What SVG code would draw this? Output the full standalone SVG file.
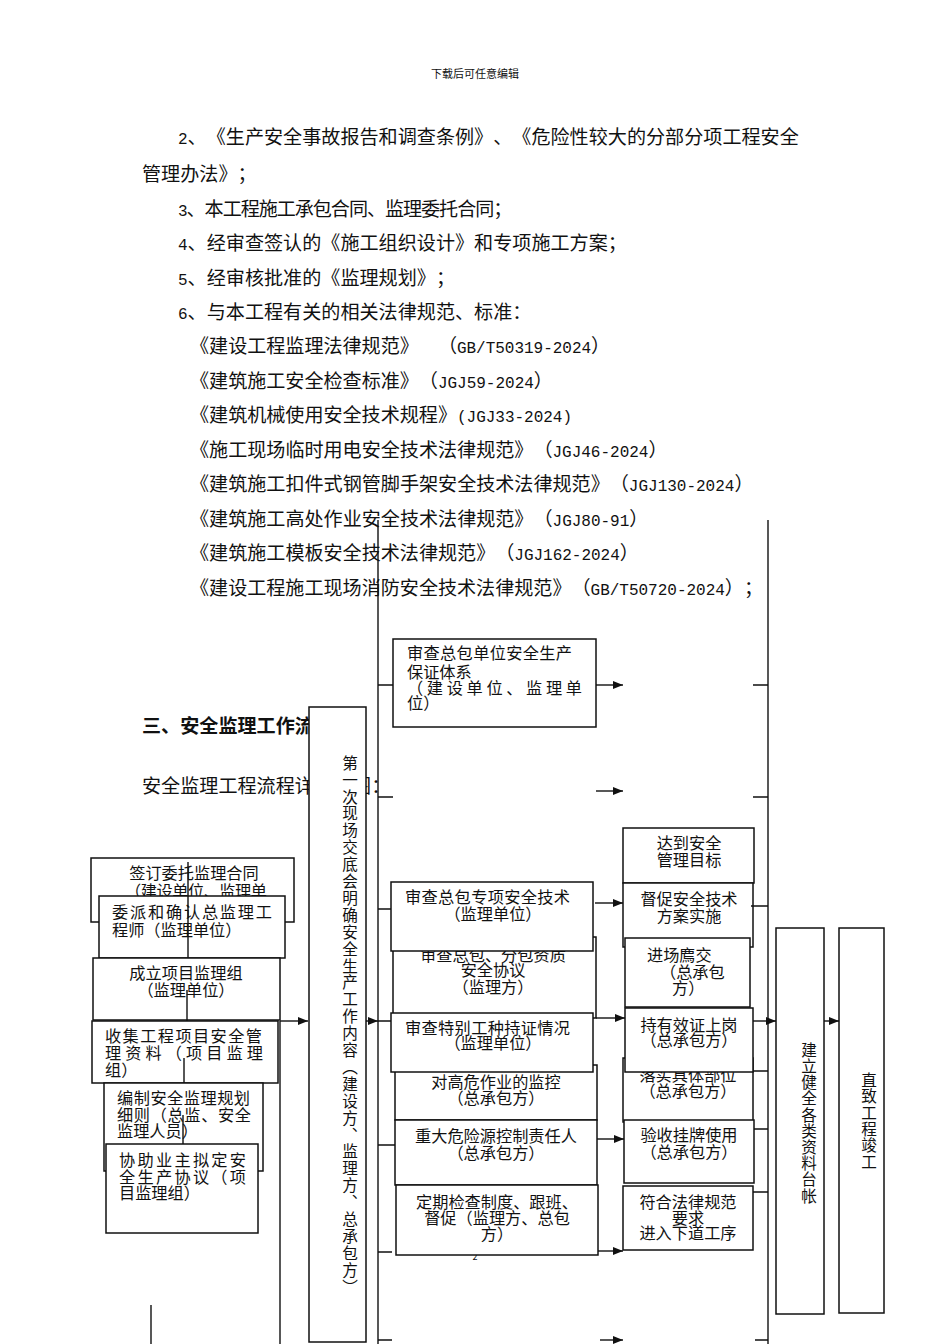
<svg xmlns="http://www.w3.org/2000/svg" width="950" height="1344" viewBox="0 0 950 1344">
<defs>
<style>
text{font-family:"Noto Sans CJK SC","Noto Sans",sans-serif;fill:#111;text-spacing-trim:space-all;}
.doc{font-size:19.1px;}
.lat{font-family:"Liberation Mono","DejaVu Sans Mono",monospace;font-size:16px;}
.bx{fill:#fff;stroke:#111;stroke-width:1.5;}
.t{font-size:16.2px;}
.c{text-anchor:middle;}
.v{font-size:15.6px;writing-mode:vertical-rl;letter-spacing:1.3px;}
.ln{stroke:#111;stroke-width:1.4;fill:none;}
.ar{stroke:#111;stroke-width:1.4;fill:none;marker-end:url(#ah);}
</style>
<marker id="ah" viewBox="0 0 10 8" refX="10" refY="4" markerWidth="10" markerHeight="8" markerUnits="userSpaceOnUse" orient="auto"><path d="M0,0 L10,4 L0,8 z" fill="#111"/></marker>
</defs>
<rect width="950" height="1344" fill="#fff"/>

<g id="page-text">
<text x="475" y="78" font-size="11" text-anchor="middle">下载后可任意编辑</text>
<text class="doc" x="178" y="144" textLength="620.8" lengthAdjust="spacing"><tspan class="lat">2</tspan>、《生产安全事故报告和调查条例》、《危险性较大的分部分项工程安全</text>
<text class="doc" x="142" y="181" textLength="114.6" lengthAdjust="spacing">管理办法》；</text>
<text class="doc" x="178" y="216" textLength="334.3" lengthAdjust="spacing"><tspan class="lat">3</tspan>、本工程施工承包合同、监理委托合同；</text>
<text class="doc" x="178" y="250" textLength="448.9" lengthAdjust="spacing"><tspan class="lat">4</tspan>、经审查签认的《施工组织设计》和专项施工方案；</text>
<text class="doc" x="178" y="285" textLength="277" lengthAdjust="spacing"><tspan class="lat">5</tspan>、经审核批准的《监理规划》；</text>
<text class="doc" x="178" y="319" textLength="353.4" lengthAdjust="spacing"><tspan class="lat">6</tspan>、与本工程有关的相关法律规范、标准：</text>
<text class="doc" x="190" y="353" textLength="420.2" lengthAdjust="spacing">《建设工程监理法律规范》　（<tspan class="lat">GB/T50319-2024</tspan>）</text>
<text class="doc" x="190" y="388" textLength="362.9" lengthAdjust="spacing">《建筑施工安全检查标准》（<tspan class="lat">JGJ59-2024</tspan>）</text>
<text class="doc" x="190" y="422" textLength="382" lengthAdjust="spacing">《建筑机械使用安全技术规程》<tspan class="lat">(JGJ33-2024)</tspan></text>
<text class="doc" x="190" y="457" textLength="477.5" lengthAdjust="spacing">《施工现场临时用电安全技术法律规范》（<tspan class="lat">JGJ46-2024</tspan>）</text>
<text class="doc" x="190" y="491" textLength="563.5" lengthAdjust="spacing">《建筑施工扣件式钢管脚手架安全技术法律规范》（<tspan class="lat">JGJ130-2024</tspan>）</text>
<text class="doc" x="190" y="526" textLength="458.4" lengthAdjust="spacing">《建筑施工高处作业安全技术法律规范》（<tspan class="lat">JGJ80-91</tspan>）</text>
<text class="doc" x="190" y="560" textLength="448.9" lengthAdjust="spacing">《建筑施工模板安全技术法律规范》（<tspan class="lat">JGJ162-2024</tspan>）</text>
<text class="doc" x="190" y="595" textLength="573" lengthAdjust="spacing">《建设工程施工现场消防安全技术法律规范》（<tspan class="lat">GB/T50720-2024</tspan>）；</text>
<text class="doc" x="142" y="733" font-weight="bold" textLength="171.9" lengthAdjust="spacing">三、安全监理工作流</text>
<text class="doc" x="142" y="793" textLength="248.3" lengthAdjust="spacing">安全监理工程流程详见下图：</text>
<text x="475" y="1260" font-size="9" text-anchor="middle">2</text>
</g>

<g id="n-sign">
<rect class="bx" x="91" y="858" width="203" height="64"/>
<text class="t c" x="194" y="879">签订委托监理合同</text>
<text class="t" x="125" y="897" textLength="142" lengthAdjust="spacing">（建设单位、监理单</text>
</g>
<g id="n-appoint">
<rect class="bx" x="99" y="896" width="186" height="62"/>
<text class="t" x="112" y="918" textLength="160" lengthAdjust="spacing">委派和确认总监理工</text>
<text class="t" x="112" y="936">程师（监理单位）</text>
</g>
<g id="n-team">
<rect class="bx" x="93" y="958" width="187" height="62"/>
<text class="t c" x="186" y="979">成立项目监理组</text>
<text class="t c" x="186" y="996">（监理单位）</text>
</g>
<g id="n-collect">
<rect class="bx" x="92" y="1021" width="186" height="62"/>
<text class="t" x="105" y="1042" textLength="157" lengthAdjust="spacing">收集工程项目安全管</text>
<text class="t" x="105" y="1059" textLength="158" lengthAdjust="spacing">理资料（项目监理</text>
<text class="t" x="105" y="1076">组）</text>
</g>
<g id="n-plan">
<rect class="bx" x="104" y="1083" width="159" height="88"/>
<text class="t" x="117" y="1104" textLength="133" lengthAdjust="spacing">编制安全监理规划</text>
<text class="t" x="117" y="1121" textLength="134" lengthAdjust="spacing">细则（总监、安全</text>
<text class="t" x="117" y="1137">监理人员）</text>
</g>
<g id="n-assist">
<rect class="bx" x="106" y="1144" width="152" height="89"/>
<text class="t" x="119" y="1166" textLength="127" lengthAdjust="spacing">协助业主拟定安</text>
<text class="t" x="119" y="1183" textLength="127" lengthAdjust="spacing">全生产协议（项</text>
<text class="t" x="119" y="1199">目监理组）</text>
</g>

<g id="n-first">
<rect class="bx" x="309" y="707" width="57" height="635"/>
<text class="v" x="350" y="755">第一次现场交底会明确安全生产工作内容（建设方、监理方、总承包方）</text>
</g>

<g id="n-system">
<rect class="bx" x="393" y="639" width="203" height="88"/>
<text class="t" x="407" y="659" textLength="165" lengthAdjust="spacing">审查总包单位安全生产</text>
<text class="t" x="407" y="678">保证体系</text>
<text class="t" x="407" y="694" textLength="175" lengthAdjust="spacing">（建设单位、监理单</text>
<text class="t" x="407" y="709">位）</text>
</g>
<g id="n-qual">
<rect class="bx" x="393" y="937" width="203" height="81"/>
<text class="t c" x="493" y="961">审查总包、分包资质</text>
<text class="t c" x="493" y="976">安全协议</text>
<text class="t c" x="493" y="993">（监理方）</text>
</g>
<g id="n-special">
<rect class="bx" x="391" y="882" width="202" height="69"/>
<text class="t" x="405" y="903" textLength="165" lengthAdjust="spacing">审查总包专项安全技术</text>
<text class="t c" x="493" y="920">（监理单位）</text>
</g>
<g id="n-height">
<rect class="bx" x="395" y="1065" width="202" height="55"/>
<text class="t c" x="496" y="1088">对高危作业的监控</text>
<text class="t c" x="496" y="1104">（总承包方）</text>
</g>
<g id="n-cert">
<rect class="bx" x="391" y="1013" width="202" height="59"/>
<text class="t" x="405" y="1034" textLength="165" lengthAdjust="spacing">审查特别工种持证情况</text>
<text class="t c" x="493" y="1049">（监理单位）</text>
</g>
<g id="n-hazard">
<rect class="bx" x="395" y="1120" width="202" height="65"/>
<text class="t c" x="496" y="1142">重大危险源控制责任人</text>
<text class="t c" x="496" y="1159">（总承包方）</text>
</g>
<g id="n-inspect">
<rect class="bx" x="396" y="1185" width="202" height="70"/>
<text class="t c" x="497" y="1208">定期检查制度、跟班、</text>
<text class="t c" x="497" y="1224">督促（监理方、总包</text>
<text class="t c" x="497" y="1240">方）</text>
</g>

<g id="n-goal">
<rect class="bx" x="623" y="828" width="131" height="55"/>
<text class="t c" x="689" y="849">达到安全</text>
<text class="t c" x="689" y="866">管理目标</text>
</g>
<g id="n-urge">
<rect class="bx" x="623" y="883" width="130" height="64"/>
<text class="t c" x="689" y="905">督促安全技术</text>
<text class="t c" x="689" y="922">方案实施</text>
</g>
<g id="n-entry">
<rect class="bx" x="625" y="938" width="125" height="69"/>
<text class="t" x="647" y="961">进场廌交</text>
<text class="t" x="660" y="978">（总承包</text>
<text class="t" x="672" y="994">方）</text>
</g>
<g id="n-position">
<rect class="bx" x="623" y="1058" width="130" height="64"/>
<text class="t c" x="688" y="1081">落实具体部位</text>
<text class="t c" x="688" y="1097">（总承包方）</text>
</g>
<g id="n-valid">
<rect class="bx" x="625" y="1008" width="128" height="64"/>
<text class="t c" x="689" y="1031">持有效证上岗</text>
<text class="t c" x="689" y="1046">（总承包方）</text>
</g>
<g id="n-accept">
<rect class="bx" x="624" y="1120" width="130" height="63"/>
<text class="t c" x="689" y="1141">验收挂牌使用</text>
<text class="t c" x="689" y="1158">（总承包方）</text>
</g>
<g id="n-comply">
<rect class="bx" x="623" y="1186" width="130" height="64"/>
<text class="t c" x="688" y="1208">符合法律规范</text>
<text class="t c" x="688" y="1224">要求</text>
<text class="t c" x="688" y="1239">进入下道工序</text>
</g>

<g id="n-records">
<rect class="bx" x="776" y="928" width="48" height="386"/>
<text class="v" x="809" y="1042" style="letter-spacing:0.6px">建立健全各类资料台帐</text>
</g>
<g id="n-complete">
<rect class="bx" x="839" y="928" width="45" height="385"/>
<text class="v" x="869" y="1072" style="letter-spacing:0.8px">直致工程竣工</text>
</g>

<g id="connectors">
<path class="ln" d="M188,862 V958 M187,990 V1021 M184,1058 V1083 M183,1115 V1144"/>
<path class="ln" d="M280,1021 V1344"/>
<path class="ar" d="M280,1021 H308"/>
<path class="ar" d="M366,1021 H378"/>
<path class="ln" d="M378,520 V1344"/>
<path class="ln" d="M378,685 H393 M378,797 H393 M378,909 H391 M378,1021 H391 M378,1145 H395 M378,1252 H392 M378,1340 H392"/>
<path class="ar" d="M596,685 H623"/>
<path class="ar" d="M596,791 H623"/>
<path class="ar" d="M595,903 H623"/>
<path class="ar" d="M596,1018 H625"/>
<path class="ar" d="M597,1139 H624"/>
<path class="ar" d="M598,1251 H623"/>
<path class="ar" d="M600,1340 H623"/>
<path class="ln" d="M768,520 V1344"/>
<path class="ln" d="M753,685 H768 M753,797 H768 M751,906 H768 M753,1071 H768 M754,1129 H768 M753,1192 H768 M755,1340 H768"/>
<path class="ar" d="M753,1021 H776"/>
<path class="ar" d="M824,1021 H839"/>
<path class="ln" d="M151,1305 V1344"/>
</g>
</svg>
